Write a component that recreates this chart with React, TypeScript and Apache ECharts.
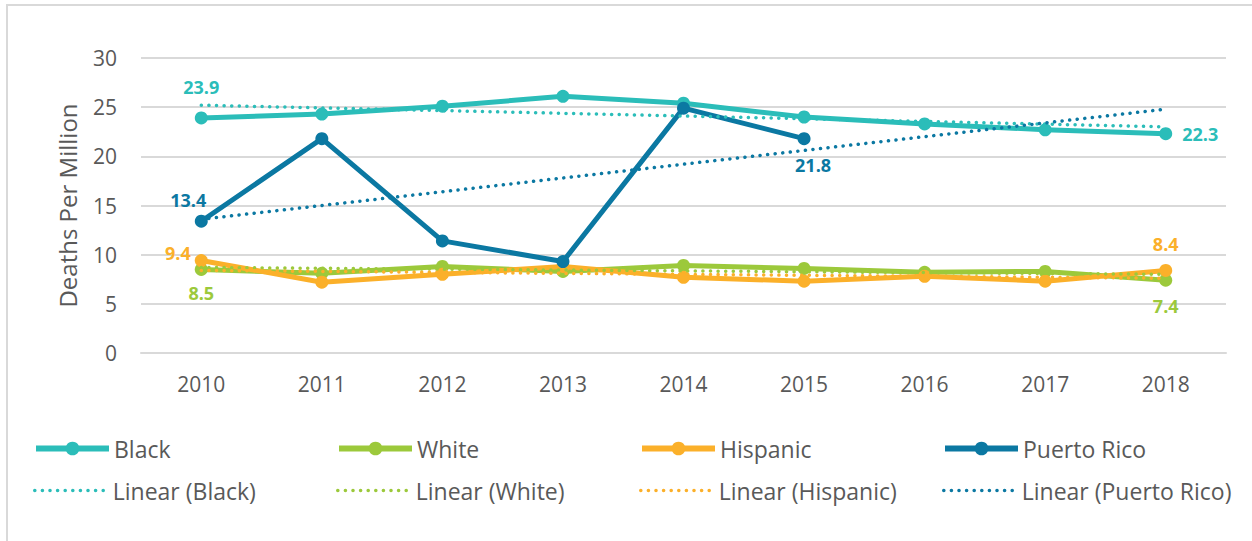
import React, { useEffect, useRef } from "react";
import * as echarts from "echarts";

const years = ["2010", "2011", "2012", "2013", "2014", "2015", "2016", "2017", "2018"];
const black = [23.9, 24.3, 25.1, 26.1, 25.4, 24.0, 23.3, 22.7, 22.3];
const white = [8.5, 8.1, 8.8, 8.3, 8.9, 8.6, 8.2, 8.3, 7.4];
const hispanic = [9.4, 7.2, 8.0, 8.8, 7.7, 7.3, 7.8, 7.3, 8.4];
const puertoRico = [13.4, 21.8, 11.4, 9.3, 24.9, 21.8, null, null, null];
// linear trend endpoints (2010, 2018)
const trendBlack = [25.2, 23.0];
const trendWhite = [8.7, 8.0];
const trendHispanic = [8.4, 7.6];
const trendPuertoRico = [13.6, 24.8];
const yTicks = [0, 5, 10, 15, 20, 25, 30];

const seriesNames = ["Black", "White", "Hispanic", "Puerto Rico"];
const trendNames = ["Linear (Black)", "Linear (White)", "Linear (Hispanic)", "Linear (Puerto Rico)"];

const COLORS = ["#2bbdb9", "#9cc93b", "#fbb02a", "#0b78a2"];
const FONT = "'Open Sans', sans-serif";
const GRAY = "#595959";
const DOTS = [0.1, 7.5];

function withLabels(values: (number | null)[], labels: Record<number, any>, color: string) {
  return values.map((v, i) =>
    labels[i]
      ? {
          value: v,
          label: {
            show: true,
            color,
            fontFamily: FONT,
            fontWeight: "bold",
            fontSize: 18,
            formatter: (p: any) => Number(p.value).toFixed(1),
            ...labels[i],
          },
        }
      : v
  );
}

function trendData(ends: number[]) {
  return years.map((_, i) => (i === 0 ? ends[0] : i === years.length - 1 ? ends[1] : null));
}

export default function App() {
  const ref = useRef<HTMLDivElement>(null);
  useEffect(() => {
    if (!ref.current) return;
    const chart = echarts.init(ref.current, null, { renderer: "svg" });
    const mainData = [
      withLabels(black, { 0: { position: "top", distance: 15 }, 8: { position: "right", distance: 10 } }, COLORS[0]),
      withLabels(white, { 0: { position: "bottom", distance: 8 }, 8: { position: "bottom", distance: 10 } }, COLORS[1]),
      withLabels(hispanic, { 0: { position: "left", distance: 4, offset: [0, -8] }, 8: { position: "top", distance: 11 } }, COLORS[2]),
      withLabels(puertoRico, { 0: { position: "top", distance: 6, offset: [-13, 0] }, 5: { position: "bottom", distance: 11, offset: [9, 0] } }, COLORS[3]),
    ];
    const trends = [trendBlack, trendWhite, trendHispanic, trendPuertoRico];
    const series: any[] = [];
    seriesNames.forEach((n, i) => {
      series.push({
        name: n,
        type: "line",
        data: mainData[i],
        symbol: "circle",
        symbolSize: 13,
        showAllSymbol: true,
        lineStyle: { color: COLORS[i], width: 5 },
        itemStyle: { color: COLORS[i] },
        z: 2 + i,
      });
    });
    trendNames.forEach((n, i) => {
      series.push({
        name: n,
        type: "line",
        data: trendData(trends[i]),
        connectNulls: true,
        symbol: "none",
        showSymbol: false,
        lineStyle: { color: COLORS[i], width: 3.5, type: DOTS, cap: "round" },
        itemStyle: { color: COLORS[i] },
        z: 10,
      });
    });
    const colX = [33, 336, 639, 942];
    const rowY = [437, 479];
    const legends = [
      ...seriesNames.map((n, i) => ({
        data: [n],
        left: colX[i],
        top: rowY[0],
        itemWidth: 73,
        itemHeight: 17,
        padding: 0,
        lineStyle: { width: 6 },
        textStyle: { fontSize: 23, color: GRAY, fontFamily: FONT },
      })),
      ...trendNames.map((n, i) => ({
        data: [{ name: n, itemStyle: { opacity: 0 } }],
        left: colX[i],
        top: rowY[1],
        itemWidth: 73,
        itemHeight: 17,
        padding: 0,
        itemStyle: { opacity: 0 },
        lineStyle: { width: 3.5, type: DOTS, cap: "round" },
        textStyle: { fontSize: 23, color: GRAY, fontFamily: FONT },
      })),
    ];
    chart.setOption({
      animation: false,
      backgroundColor: "#ffffff",
      textStyle: { fontFamily: FONT },
      graphic: [
        {
          type: "rect",
          shape: { x: 7, y: 5, width: 1300, height: 700 },
          style: { fill: "none", stroke: "#d9d9d9", lineWidth: 2 },
          silent: true,
        },
      ],
      grid: { left: 141, right: 26, top: 58, height: 295 },
      legend: legends,
      xAxis: {
        type: "category",
        data: years,
        boundaryGap: true,
        axisLine: { show: true, lineStyle: { color: "#d9d9d9", width: 2 } },
        axisTick: { show: false },
        axisLabel: { color: GRAY, fontSize: 21, fontFamily: FONT, margin: 20 },
      },
      yAxis: {
        type: "value",
        min: yTicks[0],
        max: yTicks[yTicks.length - 1],
        interval: 5,
        name: "Deaths Per Million",
        nameLocation: "middle",
        nameRotate: 90,
        nameGap: 62,
        nameTextStyle: { color: GRAY, fontSize: 24, fontFamily: FONT },
        axisLine: { show: false },
        axisTick: { show: false },
        axisLabel: { color: GRAY, fontSize: 21, fontFamily: FONT, margin: 24 },
        splitLine: { lineStyle: { color: "#d9d9d9", width: 2 } },
      },
      series,
    });
    return () => chart.dispose();
  }, []);
  return (
    <div
      ref={ref}
      style={{ position: "fixed", left: 0, top: 0, width: 1252, height: 541, background: "#fff" }}
    />
  );
}
